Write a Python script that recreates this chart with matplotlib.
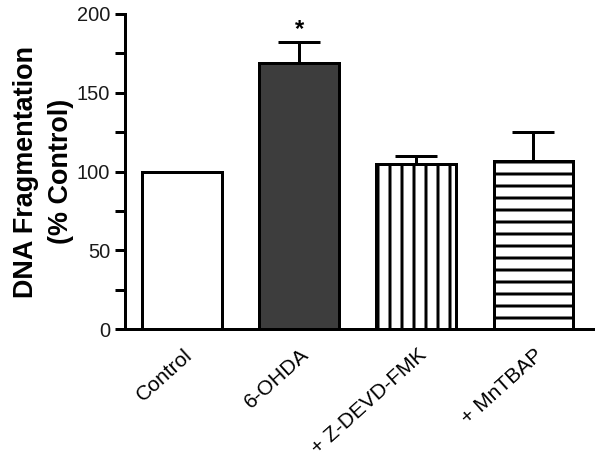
import numpy as np
import matplotlib
matplotlib.use('Agg')
from matplotlib import pyplot as plt
import matplotlib.transforms as mtransforms

groups = ['Control', '6-OHDA', '+ Z-DEVD-FMK', '+ MnTBAP']
means = [100, 169, 105, 107]
errs = [0, 13, 5, 18]
hatches = ['', '', '|', '-']
faces = ['white', '#3d3d3d', 'white', 'white']

plt.rcParams['font.family'] = ['Liberation Sans', 'DejaVu Sans']
plt.rcParams['hatch.linewidth'] = 3.0
plt.rcParams['hatch.color'] = 'black'

fig = plt.figure(figsize=(601/72., 459/72.), dpi=72)
ax = fig.add_axes([0.208, 0.283, 0.779, 0.6865])

x = np.arange(len(groups))
for i in range(len(groups)):
    ax.bar(x[i], means[i], width=0.68, color=faces[i], edgecolor='black',
           linewidth=3, hatch=hatches[i], zorder=2)
    if errs[i] > 0:
        ax.errorbar(x[i], means[i], yerr=[[0], [errs[i]]], color='black',
                    elinewidth=3, capsize=21, capthick=3, zorder=1)

ax.text(1, 186, '*', ha='center', va='baseline', fontsize=24, fontweight='bold')

ax.set_xlim(-0.487, 3.51)
ax.set_ylim(0, 200)
ax.set_yticks([0, 50, 100, 150, 200])
ax.set_yticks([25, 75, 125, 175], minor=True)
ax.tick_params(axis='y', which='both', length=10, width=3, labelsize=20,
               labelcolor='#1a1a1a', pad=5)
ax.tick_params(axis='x', length=0, labelsize=21, pad=16)
ax.set_xticks(x)
ax.set_xticklabels(groups, rotation=42, ha='right', va='top', rotation_mode='anchor')
offset = mtransforms.ScaledTranslation(1/72., 0, fig.dpi_scale_trans)
for lab in ax.get_xticklabels():
    lab.set_transform(lab.get_transform() + offset)

for s in ['top', 'right']:
    ax.spines[s].set_visible(False)
for s in ['left', 'bottom']:
    ax.spines[s].set_linewidth(3)

ax.set_ylabel('DNA Fragmentation\n(% Control)', fontsize=27, fontweight='bold',
              labelpad=3, linespacing=1.45)

plt.savefig('out.png', dpi=72)
